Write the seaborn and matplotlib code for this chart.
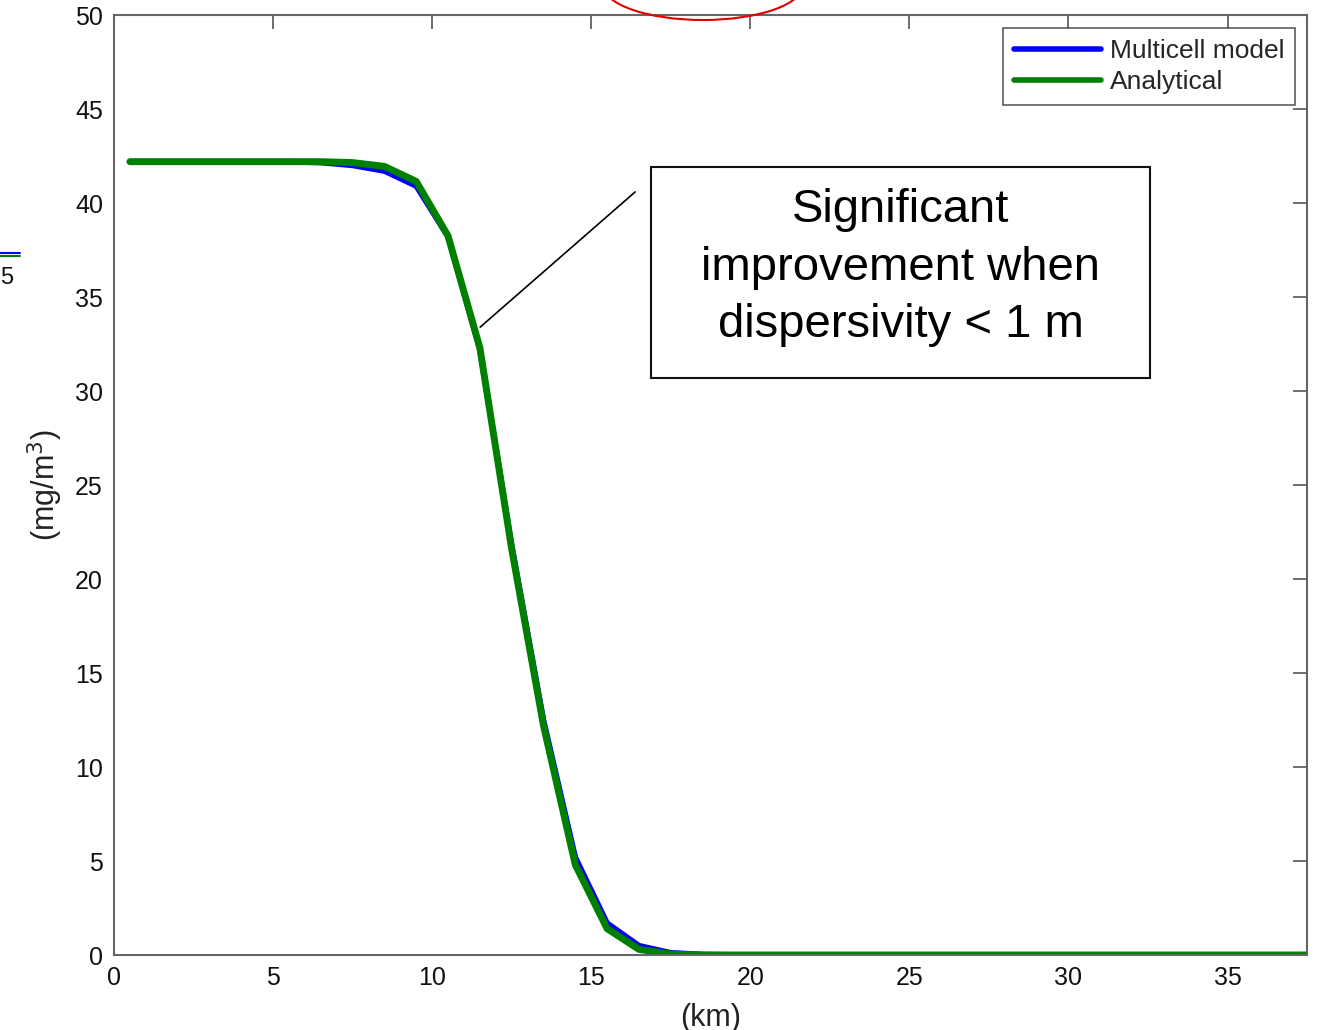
import numpy as np
import pandas as pd
import matplotlib
matplotlib.use("Agg")
import matplotlib.pyplot as plt
import seaborn as sns
from matplotlib.patches import Ellipse, Rectangle
from matplotlib.lines import Line2D

distance_km = [0.5, 1.5, 2.5, 3.5, 4.5, 5.5, 6.5, 7.5, 8.5, 9.5, 10.5, 11.5, 12.5,
               13.5, 14.5, 15.5, 16.5, 17.5, 18.5, 19.5, 20.5, 21.5, 22.5, 23.5,
               24.5, 25.5, 26.5, 27.5, 28.5, 29.5, 30.5, 31.5, 32.5, 33.5, 34.5,
               35.5, 36.5, 37.5]
multicell = [42.2, 42.2, 42.2, 42.2, 42.2, 42.2, 42.15, 42.0, 41.7, 40.9, 38.2, 32.2,
             21.8, 12.5, 5.2, 1.7, 0.5, 0.12, 0.03, 0.01, 0.0, 0.0, 0.0, 0.0,
             0.0, 0.0, 0.0, 0.0, 0.0, 0.0, 0.0, 0.0, 0.0, 0.0, 0.0, 0.0, 0.0, 0.0]
analytical = [42.2, 42.2, 42.2, 42.2, 42.2, 42.2, 42.2, 42.15, 41.95, 41.15, 38.25, 32.3,
              21.6, 12.2, 4.8, 1.4, 0.3, 0.05, 0.0, 0.0, 0.0, 0.0, 0.0, 0.0,
              0.0, 0.0, 0.0, 0.0, 0.0, 0.0, 0.0, 0.0, 0.0, 0.0, 0.0, 0.0, 0.0, 0.0]
series_names = ["Multicell model", "Analytical"]
x_ticks = [0, 5, 10, 15, 20, 25, 30, 35]
y_ticks = [0, 5, 10, 15, 20, 25, 30, 35, 40, 45, 50]
annotation_text = "Significant\nimprovement when\ndispersivity < 1 m"

df = pd.DataFrame({
    "x": distance_km * 2,
    "y": multicell + analytical,
    "series": [series_names[0]] * len(distance_km) + [series_names[1]] * len(distance_km),
})

sns.set_theme(style="white")
plt.rcParams["font.family"] = ["Liberation Sans", "DejaVu Sans"]

fig = plt.figure(figsize=(13.24, 10.30), dpi=100)
ax = fig.add_axes([0.0861, 0.0728, 0.9011, 0.9126])

palette = {series_names[0]: "#0000ff", series_names[1]: "#008000"}
sns.lineplot(data=df, x="x", y="y", hue="series", palette=palette, ax=ax,
             linewidth=4.5, legend=False)
for line, lw in zip(ax.lines, [4.0, 5.0]):
    line.set_linewidth(lw)

ax.set_xlim(0, 37.5)
ax.set_ylim(0, 50)
ax.set_xticks(x_ticks)
ax.set_yticks(y_ticks)
ax.set_xticklabels([str(t) for t in x_ticks])
ax.set_yticklabels([str(t) for t in y_ticks])
ax.tick_params(direction="in", length=10, width=1.2, color="#555555",
               labelsize=18, top=True, right=True, pad=8, labelcolor="#111111")
for s in ax.spines.values():
    s.set_color("#666666")
    s.set_linewidth(1.5)
ax.set_xlabel("(km)", fontsize=22, labelpad=9, color="#222222")
ax.set_ylabel("(mg/m$^3$)", fontsize=22, color="#222222")
ax.yaxis.set_label_coords(-0.041, 0.5)

# legend
handles = [Line2D([], [], color=palette[n], lw=4) for n in series_names]
leg = ax.legend(handles, series_names, loc="upper right", fontsize=19,
                frameon=True, fancybox=False, handlelength=3.3,
                handletextpad=0.35, borderpad=0.4, labelspacing=0.28,
                bbox_to_anchor=(0.990, 0.986), borderaxespad=0.0)
leg.get_frame().set_edgecolor("#333333")
leg.get_frame().set_linewidth(1.2)

# annotation box and pointer line
ax.add_patch(Rectangle((16.88, 30.69), 32.57 - 16.88, 41.91 - 30.69,
                       fc="white", ec="#111111", lw=1.5, zorder=5))
ax.text(24.72, 36.55, annotation_text, fontsize=34, ha="center", va="center",
        color="#000000", linespacing=1.40, zorder=6)
ax.add_line(Line2D([11.51, 16.38], [33.4, 40.59], color="black", lw=1.2, zorder=6))

# cropped artefacts at the figure edges
fig.add_artist(Ellipse((703 / 1324, 1 + 15 / 1030), 200 / 1324, 70 / 1030,
                       transform=fig.transFigure, fill=False, ec="#e00000", lw=1.5))
fig.add_artist(Line2D([0, 20 / 1324], [1 - 253 / 1030] * 2, transform=fig.transFigure,
                      color="#0000ff", lw=1.5))
fig.add_artist(Line2D([0, 20 / 1324], [1 - 256 / 1030] * 2, transform=fig.transFigure,
                      color="#008000", lw=1.5))
fig.text(0.0, 1 - 278 / 1030, "5", fontsize=17, ha="left", va="center", color="#111111")

fig.savefig("out.png", dpi=100)
